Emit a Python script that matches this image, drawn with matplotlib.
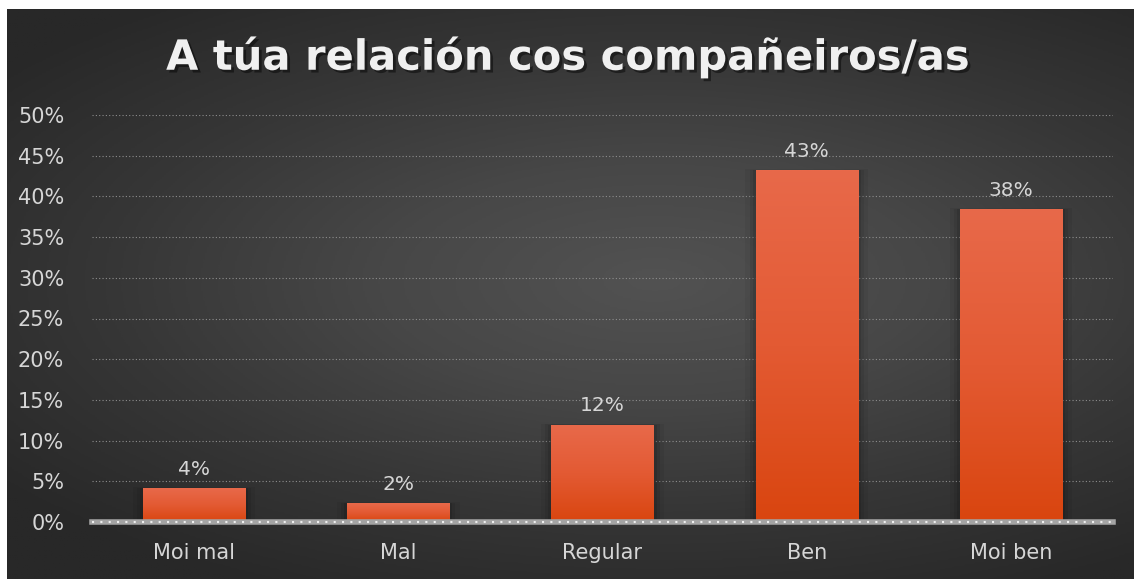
import numpy as np
import matplotlib
matplotlib.use("Agg")
import matplotlib.pyplot as plt
import matplotlib.patheffects as pe
from matplotlib.colors import LinearSegmentedColormap

categories = ["Moi mal", "Mal", "Regular", "Ben", "Moi ben"]
values = [4.1, 2.3, 11.9, 43.2, 38.4]
yticks = [0, 5, 10, 15, 20, 25, 30, 35, 40, 45, 50]
title = "A túa relación cos compañeiros/as"

text_col = "#d6d6d6"

fig = plt.figure(figsize=(11.34, 5.79), dpi=100)
fig.patch.set_facecolor("white")

# dark background, lighter towards the middle (white margin on top and left like the source)
bg = fig.add_axes([7 / 1134, 0, 1 - 7 / 1134, 1 - 9 / 579])
yy, xx = np.mgrid[-1:1:300j, -1:1:600j]
r = np.sqrt(((xx - 0.15) * 0.75) ** 2 + ((yy + 0.05) * 0.9) ** 2)
bg_cmap = LinearSegmentedColormap.from_list("bg", ["#525252", "#474747", "#363636", "#282828"])
bg.imshow(r, cmap=bg_cmap, vmin=0, vmax=1.1, aspect="auto", extent=[0, 1, 0, 1])
bg.set_axis_off()

ax = fig.add_axes([92 / 1134, 1 - 522 / 579, (1113 - 92) / 1134, (522 - 115) / 579])
ax.patch.set_alpha(0)

x = np.arange(len(categories))
bars = ax.bar(x, values, width=0.5, color="none", zorder=3)

bar_cmap = LinearSegmentedColormap.from_list("bar", ["#e8694a", "#e35a33", "#d9450f"])
grad = np.linspace(0, 1, 256).reshape(-1, 1)
for b in bars:
    x0, w, h = b.get_x(), b.get_width(), b.get_height()
    # soft shadow behind the bar
    for k, a in zip([0.05, 0.03, 0.015], [0.05, 0.07, 0.1]):
        ax.add_patch(plt.Rectangle((x0 - k, 0), w + 2 * k, h + k * 3.0,
                                   color="black", alpha=a, lw=0, zorder=2))
    ax.imshow(grad, cmap=bar_cmap, aspect="auto", extent=[x0, x0 + w, 0, h], zorder=3)
    ax.text(x0 + w / 2, h + 1.2, f"{h:.0f}%", ha="center", va="bottom",
            fontsize=14.5, color=text_col, family="DejaVu Sans", zorder=4)

ax.set_xlim(-0.5, len(categories) - 0.5)
ax.set_ylim(0, 50)

for t in yticks[1:]:
    ax.axhline(t, color="#8e8e8e", lw=0.8, ls=(0, (1, 2)), zorder=1)
ax.axhline(0, color="#a4a4a4", lw=4, zorder=5, clip_on=False)
ax.axhline(0, color="#eeeeee", lw=1.5, ls=(0, (1, 3)), zorder=6, clip_on=False)

ax.set_yticks(yticks)
ax.set_yticklabels([f"{t}%" for t in yticks])
ax.set_xticks(x)
ax.set_xticklabels(categories)
ax.tick_params(axis="both", length=0, colors=text_col, labelsize=15)
ax.tick_params(axis="x", pad=15)
ax.tick_params(axis="y", pad=20)
for lab in ax.get_yticklabels() + ax.get_xticklabels():
    lab.set_family("DejaVu Sans")
for s in ax.spines.values():
    s.set_visible(False)

fig.text(0.5, 1 - 57 / 579, title, ha="center", va="center", fontsize=30,
         fontweight="bold", color="#f0f0f0", family="DejaVu Sans",
         path_effects=[pe.withSimplePatchShadow(offset=(2, -2), shadow_rgbFace="black", alpha=0.45)])

fig.savefig("out.png", dpi=100, facecolor=fig.get_facecolor())
